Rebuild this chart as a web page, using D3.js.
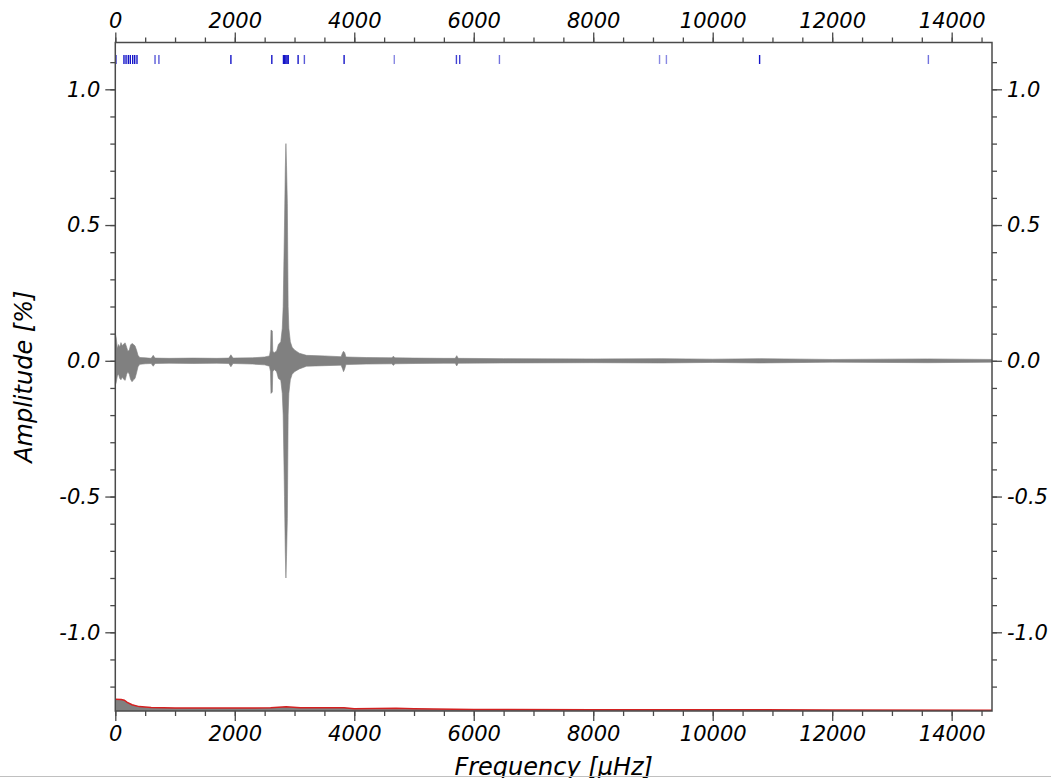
<!DOCTYPE html>
<html>
<head>
<meta charset="utf-8">
<script src="https://cdn.jsdelivr.net/npm/d3@7"></script>
<style>
  body { margin: 0; background: #fff; }
  text { font-family: "DejaVu Sans", sans-serif; font-style: italic; }
</style>
</head>
<body>
<div id="chart"></div>
<script>
// amplitude spectrum, frequency in microHz, amplitude in %
var specFreq  = [0, 15, 35, 55, 75, 95, 115, 140, 165, 190, 210, 235, 255, 280, 305, 330, 355, 380, 410,
                 500, 600, 635, 665, 900, 1300, 1700, 1900, 1935, 1970, 2300, 2500, 2580,
                 2598, 2606, 2628, 2636, 2660, 2700, 2730, 2770, 2795, 2810, 2832, 2846, 2856, 2866, 2880,
                 2893, 2905, 2930, 2960, 3000, 3080, 3200, 3500, 3780, 3805, 3820, 3840, 3860, 4200,
                 4630, 4655, 4680, 5000, 5500, 5690, 5715, 5740, 6500, 8000, 9150, 10000, 10790, 12000, 13600, 14675];
var specUpper = [0.10, 0.085, 0.045, 0.06, 0.05, 0.067, 0.055, 0.062, 0.066, 0.05, 0.035, 0.04, 0.058, 0.064, 0.06, 0.055, 0.04, 0.02, 0.012,
                 0.011, 0.009, 0.02, 0.01, 0.009, 0.01, 0.009, 0.01, 0.022, 0.01, 0.011, 0.014, 0.018,
                 0.04, 0.113, 0.11, 0.035, 0.03, 0.036, 0.06, 0.07, 0.12, 0.2, 0.5, 0.71, 0.80, 0.72, 0.58,
                 0.2, 0.12, 0.07, 0.05, 0.04, 0.028, 0.02, 0.018, 0.015, 0.03, 0.035, 0.03, 0.014, 0.012,
                 0.011, 0.017, 0.011, 0.01, 0.009, 0.009, 0.019, 0.009, 0.008, 0.007, 0.008, 0.006, 0.008, 0.005, 0.007, 0.005];
var specLower = [-0.09, -0.08, -0.055, -0.05, -0.065, -0.07, -0.06, -0.068, -0.072, -0.05, -0.04, -0.05, -0.068, -0.077, -0.07, -0.065, -0.045, -0.022, -0.013,
                 -0.011, -0.01, -0.02, -0.01, -0.009, -0.01, -0.009, -0.01, -0.022, -0.01, -0.012, -0.015, -0.02,
                 -0.04, -0.12, -0.115, -0.04, -0.032, -0.04, -0.065, -0.072, -0.12, -0.2, -0.5, -0.71, -0.80, -0.72, -0.58,
                 -0.2, -0.12, -0.07, -0.05, -0.04, -0.03, -0.02, -0.018, -0.016, -0.03, -0.04, -0.03, -0.014, -0.012,
                 -0.011, -0.017, -0.011, -0.01, -0.009, -0.009, -0.019, -0.009, -0.008, -0.007, -0.008, -0.006, -0.008, -0.005, -0.007, -0.005];

// noise level curve drawn near the bottom (plotted in axis units)
var noiseFreq  = [0, 100, 150, 200, 280, 400, 600, 1000, 2000, 2600, 2860, 3100, 3830, 4000, 4700, 5000, 6000, 8000, 10000, 12000, 14675];
var noiseLevel = [-1.2466, -1.2475, -1.250, -1.258, -1.267, -1.2737, -1.2773, -1.279, -1.279, -1.278, -1.274, -1.278, -1.278,
                  -1.282, -1.280, -1.282, -1.284, -1.285, -1.2855, -1.286, -1.287];

// identified frequencies marked at the top
var markFreq     = [10, 145, 180, 218, 251, 291, 325, 363, 665, 730, 1935, 2620, 2815, 2835, 2855, 2875, 2895,
                    3060, 3165, 3830, 4670, 5710, 5765, 6430, 9110, 9225, 10785, 13610];
var markStrength = [1, 1, 1, 1, 1, 1, 1, 1, 0.7, 0.7, 1, 1, 1, 1, 1, 1, 1,
                    1, 0.7, 1, 0.5, 0.8, 0.8, 0.6, 0.5, 0.5, 1, 0.6];

var xMajor = [0, 2000, 4000, 6000, 8000, 10000, 12000, 14000];
var yMajor = [-1.0, -0.5, 0.0, 0.5, 1.0];
var xDomain = [0, 14675];
var yDomain = [-1.2899, 1.1724];

var W = 1051, H = 778;
var pLeft = 115.3, pRight = 992, pTop = 42.5, pBottom = 711;

var svg = d3.select("#chart").append("svg")
  .attr("width", W)
  .attr("height", H);

var x = d3.scaleLinear().domain(xDomain).range([pLeft, pRight]);
var y = d3.scaleLinear().domain(yDomain).range([pBottom, pTop]);

var spec = specFreq.map(function (f, i) { return { f: f, hi: specUpper[i], lo: specLower[i] }; });
var noise = noiseFreq.map(function (f, i) { return { f: f, v: noiseLevel[i] }; });

// spectrum band
svg.append("path")
  .datum(spec)
  .attr("fill", "#808080")
  .attr("stroke", "#808080")
  .attr("stroke-width", 0.6)
  .attr("d", d3.area()
    .x(function (d) { return x(d.f); })
    .y0(function (d) { return y(d.lo); })
    .y1(function (d) { return y(d.hi); }));

// noise: grey fill under a red line
svg.append("path")
  .datum(noise)
  .attr("fill", "#808080")
  .attr("d", d3.area()
    .x(function (d) { return x(d.f); })
    .y0(pBottom)
    .y1(function (d) { return y(d.v); }));
svg.append("path")
  .datum(noise)
  .attr("fill", "none")
  .attr("stroke", "#d42020")
  .attr("stroke-width", 1.5)
  .attr("d", d3.line()
    .x(function (d) { return x(d.f); })
    .y(function (d) { return y(d.v); }));

// frequency marks
svg.append("g").selectAll("line")
  .data(markFreq)
  .enter().append("line")
  .attr("x1", function (d) { return x(d); })
  .attr("x2", function (d) { return x(d); })
  .attr("y1", 55)
  .attr("y2", 64)
  .attr("stroke", "#1414c8")
  .attr("stroke-width", 1.4)
  .attr("stroke-opacity", function (d, i) { return markStrength[i]; });

// axes
var tickColor = "#4a4a4a";
function styleAxis(g) {
  g.select(".domain").remove();
  g.selectAll("line").attr("stroke", tickColor).attr("stroke-width", 1.3);
  g.selectAll("text").attr("fill", "#000").style("font-size", "21px").style("font-family", "DejaVu Sans, sans-serif").style("font-style", "italic");
}
var xMinor = d3.range(0, 14501, 500);
var yMinor = d3.range(-12, 12).map(function (d) { return d / 10; });

function minorX(axisFn, ypos) {
  svg.append("g").attr("transform", "translate(0," + ypos + ")")
    .call(axisFn(x).tickValues(xMinor).tickSize(5).tickFormat(""))
    .call(styleAxis);
}
function minorY(axisFn, xpos) {
  svg.append("g").attr("transform", "translate(" + xpos + ",0)")
    .call(axisFn(y).tickValues(yMinor).tickSize(5).tickFormat(""))
    .call(styleAxis);
}
minorX(d3.axisBottom, pBottom);
minorX(d3.axisTop, pTop);
minorY(d3.axisLeft, pLeft);
minorY(d3.axisRight, pRight);

var fmtY = function (d) { return d.toFixed(1); };
svg.append("g").attr("transform", "translate(0," + pBottom + ")")
  .call(d3.axisBottom(x).tickValues(xMajor).tickSize(10).tickPadding(5).tickFormat(d3.format("d")))
  .call(styleAxis);
svg.append("g").attr("transform", "translate(0," + pTop + ")")
  .call(d3.axisTop(x).tickValues(xMajor).tickSize(10).tickPadding(5).tickFormat(d3.format("d")))
  .call(styleAxis);
svg.append("g").attr("transform", "translate(" + pLeft + ",0)")
  .call(d3.axisLeft(y).tickValues(yMajor).tickSize(10).tickPadding(5).tickFormat(fmtY))
  .call(styleAxis);
svg.append("g").attr("transform", "translate(" + pRight + ",0)")
  .call(d3.axisRight(y).tickValues(yMajor).tickSize(10).tickPadding(5).tickFormat(fmtY))
  .call(styleAxis);

// frame
svg.append("rect")
  .attr("x", pLeft).attr("y", pTop)
  .attr("width", pRight - pLeft).attr("height", pBottom - pTop)
  .attr("fill", "none")
  .attr("stroke", tickColor)
  .attr("stroke-width", 1.5);

// axis titles
svg.append("text")
  .attr("transform", "translate(32," + ((pTop + pBottom) / 2) + ") rotate(-90)")
  .attr("text-anchor", "middle")
  .style("font-size", "24px")
  .text("Amplitude [%]");
svg.append("text")
  .attr("x", (pLeft + pRight) / 2)
  .attr("y", 775)
  .attr("text-anchor", "middle")
  .style("font-size", "24px")
  .text("Frequency [\u03bcHz]");

// window edge at the bottom
svg.append("line")
  .attr("x1", 0).attr("x2", W)
  .attr("y1", 776.5).attr("y2", 776.5)
  .attr("stroke", "#c0c0c0")
  .attr("stroke-width", 1);
</script>
</body>
</html>
